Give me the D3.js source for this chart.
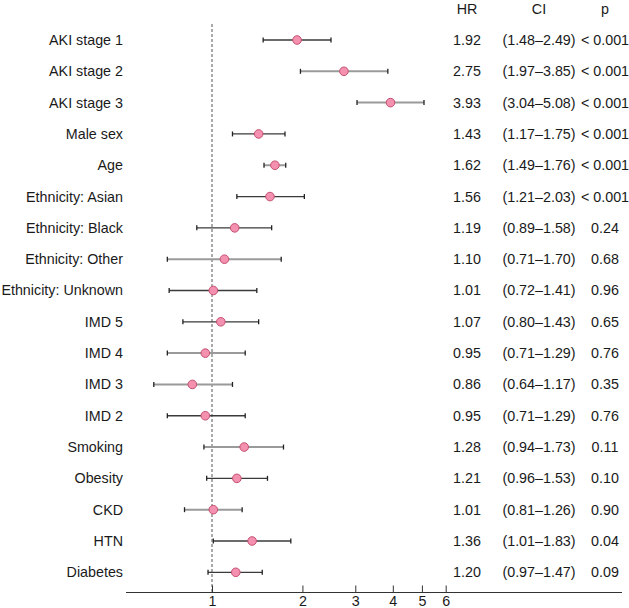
<!DOCTYPE html>
<html><head><meta charset="utf-8">
<script src="https://cdn.jsdelivr.net/npm/d3@7"></script>
<style>
html,body{margin:0;padding:0;background:#fff;}
svg{display:block;font-family:"Liberation Sans",Arial,Helvetica,sans-serif;}
</style></head>
<body><svg id="c" width="629" height="608"></svg>
<script>
const labels = ["AKI stage 1","AKI stage 2","AKI stage 3","Male sex","Age","Ethnicity: Asian","Ethnicity: Black","Ethnicity: Other","Ethnicity: Unknown","IMD 5","IMD 4","IMD 3","IMD 2","Smoking","Obesity","CKD","HTN","Diabetes"];
const hr    = [1.92,2.75,3.93,1.43,1.62,1.56,1.19,1.10,1.01,1.07,0.95,0.86,0.95,1.28,1.21,1.01,1.36,1.20];
const lower = [1.48,1.97,3.04,1.17,1.49,1.21,0.89,0.71,0.72,0.80,0.71,0.64,0.71,0.94,0.96,0.81,1.01,0.97];
const upper = [2.49,3.85,5.08,1.75,1.76,2.03,1.58,1.70,1.41,1.43,1.29,1.17,1.29,1.73,1.53,1.26,1.83,1.47];
const pvals = ["< 0.001","< 0.001","< 0.001","< 0.001","< 0.001","< 0.001","0.24","0.68","0.96","0.65","0.76","0.35","0.76","0.11","0.10","0.90","0.04","0.09"];
const tickValues = [1,2,3,4,5,6];
const headers = ["HR","CI","p"];
// line tone per row (style): 1 = light thick, 0 = dark thin
const lineTone = [0,1,1,0,1,0,0,1,0,0,1,1,0,1,0,1,0,0];

const svg = d3.select("#c");
const fs = 14.3;
const txtCol = "#1a1a1a";

const x = d3.scaleLog().domain([1, 6]).range([212, 445.7]);
const y = d3.scaleLinear().domain([0, 17]).range([40, 572.3]);
const axisY = 592.5;

// reference dashed line
svg.append("line")
  .attr("x1", x(1)).attr("x2", x(1))
  .attr("y1", 24).attr("y2", axisY)
  .attr("stroke", "#555").attr("stroke-width", 1)
  .attr("stroke-dasharray", "3,2");

// axis
const axis = d3.axisBottom(x).tickValues(tickValues).tickFormat(d3.format("d"))
  .tickSizeInner(-7).tickSizeOuter(0).tickPadding(3.5);
const gA = svg.append("g").attr("transform", `translate(0,${axisY})`).call(axis);
gA.select(".domain").attr("d", "M126,0H622").attr("stroke", "#333");
gA.selectAll(".tick line").attr("stroke", "#333");
gA.selectAll(".tick text").attr("font-size", fs).attr("fill", txtCol)
  .attr("font-family", "Liberation Sans, Arial, sans-serif");

// labels
svg.append("g").selectAll("text").data(labels).join("text")
  .attr("x", 123).attr("y", (d, i) => y(i)).attr("dy", "0.35em")
  .attr("text-anchor", "end").attr("font-size", fs).attr("fill", txtCol)
  .text(d => d);

// CI lines
const rows = labels.map((l, i) => ({i, hr: hr[i], lo: lower[i], hi: upper[i], tone: lineTone[i]}));
svg.append("g").selectAll("line").data(rows).join("line")
  .attr("x1", d => x(d.lo)).attr("x2", d => x(d.hi))
  .attr("y1", d => y(d.i)).attr("y2", d => y(d.i))
  .attr("stroke", d => d.tone ? "#9a9a9a" : "#3a3a3a")
  .attr("stroke-width", d => d.tone ? 2 : 1.3);
// caps
const caps = svg.append("g");
rows.forEach(d => {
  [d.lo, d.hi].forEach(v => {
    caps.append("line")
      .attr("x1", x(v)).attr("x2", x(v))
      .attr("y1", y(d.i) - 2.5).attr("y2", y(d.i) + 2.5)
      .attr("stroke", "#222").attr("stroke-width", 1.3);
  });
});
// points
svg.append("g").selectAll("circle").data(rows).join("circle")
  .attr("cx", d => x(d.hr)).attr("cy", d => y(d.i)).attr("r", 4.3)
  .attr("fill", "#f490b0").attr("stroke", "#c4506f").attr("stroke-width", 1);

// columns
const colX = [467, 539, 605];
headers.forEach((h, k) => {
  svg.append("text").attr("x", colX[k]).attr("y", y(-1)).attr("dy", "0.35em")
    .attr("text-anchor", "middle").attr("font-size", fs).attr("fill", txtCol).text(h);
});
const fmt = d3.format(".2f");
svg.append("g").selectAll("text").data(rows).join("text")
  .attr("x", colX[0]).attr("y", d => y(d.i)).attr("dy", "0.35em")
  .attr("text-anchor", "middle").attr("font-size", fs).attr("fill", txtCol)
  .text(d => fmt(d.hr));
svg.append("g").selectAll("text").data(rows).join("text")
  .attr("x", colX[1]).attr("y", d => y(d.i)).attr("dy", "0.35em")
  .attr("text-anchor", "middle").attr("font-size", fs).attr("fill", txtCol)
  .text(d => `(${fmt(d.lo)}\u2013${fmt(d.hi)})`);
svg.append("g").selectAll("text").data(rows).join("text")
  .attr("x", colX[2]).attr("y", d => y(d.i)).attr("dy", "0.35em")
  .attr("text-anchor", "middle").attr("font-size", fs).attr("fill", txtCol)
  .text(d => pvals[d.i]);
</script></body></html>
